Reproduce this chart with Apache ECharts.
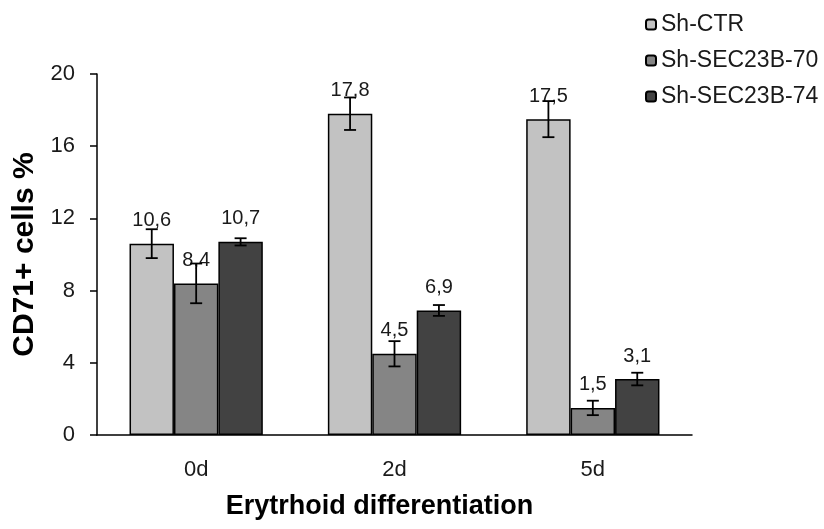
<!DOCTYPE html>
<html>
<head>
<meta charset="utf-8">
<script src="https://cdn.jsdelivr.net/npm/echarts@6/dist/echarts.min.js"></script>
<style>
  html, body { margin: 0; padding: 0; background: #fff; }
  #chart { width: 824px; height: 529px; }
</style>
</head>
<body>
<div id="chart"></div>
<script>
  // values
  const categories = ['0d', '2d', '5d'];
  const seriesNames = ['Sh-CTR', 'Sh-SEC23B-70', 'Sh-SEC23B-74'];
  const ctr = [10.6, 17.8, 17.5];
  const sec70 = [8.4, 4.5, 1.5];
  const sec74 = [10.7, 6.9, 3.1];
  const ctrErr = [0.8, 0.9, 1.0];
  const sec70Err = [1.1, 0.7, 0.4];
  const sec74Err = [0.2, 0.3, 0.35];
  const yTicks = [0, 4, 8, 12, 16, 20];

  const colors = ['#c2c2c2', '#858585', '#424242'];
  const textColor = '#1a1a1a';
  const font = 'Liberation Sans, Arial, sans-serif';
  const barFrac = 0.224;

  function barSeries(name, values, k) {
    return {
      name: name,
      type: 'bar',
      data: values,
      barWidth: (barFrac * 100) + '%',
      barGap: '0%',
      itemStyle: { color: colors[k], borderColor: '#000', borderWidth: 1.5 },
      label: {
        show: true,
        position: 'top',
        distance: 13,
        color: textColor,
        fontFamily: font,
        fontSize: 20,
        formatter: p => p.value.toFixed(1).replace('.', ',')
      },
      z: 2
    };
  }

  function errSeries(values, errs, k) {
    return {
      type: 'custom',
      data: categories.map((c, i) => [i, values[i], errs[i]]),
      z: 5,
      silent: true,
      renderItem: function (params, api) {
        const i = api.value(0);
        const v = api.value(1);
        const e = api.value(2);
        const band = api.size([1, 0])[0];
        const x = api.coord([i, 0])[0] + (k - 1) * band * barFrac;
        const hi = api.coord([i, v + e])[1];
        const lo = api.coord([i, v - e])[1];
        const cap = 6;
        const st = { stroke: '#000', lineWidth: 1.8 };
        return {
          type: 'group',
          children: [
            { type: 'line', shape: { x1: x, y1: hi, x2: x, y2: lo }, style: st },
            { type: 'line', shape: { x1: x - cap, y1: hi, x2: x + cap, y2: hi }, style: st },
            { type: 'line', shape: { x1: x - cap, y1: lo, x2: x + cap, y2: lo }, style: st }
          ]
        };
      }
    };
  }

  const chart = echarts.init(document.getElementById('chart'));
  chart.setOption({
    animation: false,
    backgroundColor: '#fff',
    textStyle: { fontFamily: font, color: textColor },
    legend: {
      data: seriesNames,
      orient: 'vertical',
      left: 640,
      top: 8,
      itemWidth: 10,
      itemHeight: 10,
      itemGap: 13,
      textStyle: { fontSize: 23, color: textColor, fontFamily: font }
    },
    grid: {
      left: 97,
      right: 132,
      top: 74,
      bottom: 94,
      outerBoundsMode: 'none'
    },
    xAxis: {
      type: 'category',
      data: categories,
      name: 'Erytrhoid differentiation',
      nameLocation: 'middle',
      nameGap: 58,
      nameTextStyle: {
        fontSize: 27, fontWeight: 'bold', color: '#000', fontFamily: font,
        padding: [0, 30, 0, 0]
      },
      axisLine: { lineStyle: { color: '#000', width: 1.5 } },
      axisTick: { length: 9, lineStyle: { color: '#000', width: 1.5 } },
      axisLabel: { fontSize: 22, color: textColor, margin: 24 }
    },
    yAxis: {
      type: 'value',
      min: yTicks[0],
      max: yTicks[yTicks.length - 1],
      interval: 4,
      name: 'CD71+ cells %',
      nameLocation: 'middle',
      nameGap: 54,
      nameTextStyle: { fontSize: 30, fontWeight: 'bold', color: '#000', fontFamily: font },
      splitLine: { show: false },
      axisLine: { show: true, lineStyle: { color: '#000', width: 1.5 } },
      axisTick: { show: true, length: 7, lineStyle: { color: '#000', width: 1.5 } },
      axisLabel: { fontSize: 22, color: textColor, margin: 22 }
    },
    series: [
      barSeries(seriesNames[0], ctr, 0),
      barSeries(seriesNames[1], sec70, 1),
      barSeries(seriesNames[2], sec74, 2),
      errSeries(ctr, ctrErr, 0),
      errSeries(sec70, sec70Err, 1),
      errSeries(sec74, sec74Err, 2)
    ]
  });
</script>
</body>
</html>
